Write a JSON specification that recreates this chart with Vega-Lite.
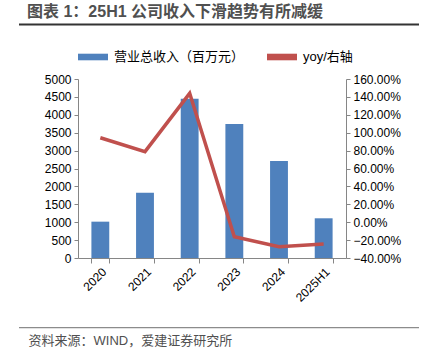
{
  "$schema": "https://vega.github.io/schema/vega-lite/v6.json",
  "background": "white",
  "padding": {"left": 18, "top": 4, "right": 7, "bottom": 5},
  "width": 268,
  "height": 179,
  "config": {
    "font": "Liberation Sans, Noto Sans CJK SC",
    "view": {"stroke": null},
    "axis": {"labelFont": "Liberation Sans, Noto Sans CJK SC", "labelFontSize": 12, "labelColor": "#000000", "domainColor": "#868686", "tickColor": "#868686", "grid": false, "titleFontSize": 12}
  },
  "title": {"text": "图表 1：25H1 公司收入下滑趋势有所减缓", "anchor": "start", "frame": "bounds", "fontSize": 16, "fontWeight": "bold", "color": "#505050", "offset": 3, "dx": 9},
  "layer": [
    {
      "data": {"values": [
        {"year": "2020", "revenue": 1015, "yoy": 0.944},
        {"year": "2021", "revenue": 1824, "yoy": 0.788},
        {"year": "2022", "revenue": 4450, "yoy": 1.44},
        {"year": "2023", "revenue": 3743, "yoy": -0.162},
        {"year": "2024", "revenue": 2709, "yoy": -0.274},
        {"year": "2025H1", "revenue": 1109, "yoy": -0.244}
      ]},
      "layer": [
        {
          "mark": {"type": "bar", "color": "#4F81BD"},
          "encoding": {
            "x": {"field": "year", "type": "nominal", "sort": null, "title": null,
                  "scale": {"paddingInner": 0.6, "paddingOuter": 0.3},
                  "axis": {"labelAngle": -45, "tickBand": "extent", "tickSize": 5, "labelPadding": 3}},
            "y": {"field": "revenue", "type": "quantitative", "title": null,
                  "scale": {"domain": [0, 5000], "nice": false},
                  "axis": {"format": "d", "values": [0, 500, 1000, 1500, 2000, 2500, 3000, 3500, 4000, 4500, 5000], "tickSize": 4, "minExtent": 59, "labelPadding": 3}},
            "color": {"datum": "营业总收入（百万元）", "type": "nominal",
                      "scale": {"domain": ["营业总收入（百万元）", "yoy/右轴"], "range": ["#4F81BD", "#C0504D"]},
                      "legend": {"orient": "top", "title": null, "direction": "horizontal", "symbolType": "M-1,-0.22H1V0.22H-1Z", "symbolSize": 900, "symbolStrokeWidth": 0, "labelFontSize": 13, "labelColor": "#000000", "columnPadding": 22, "labelOffset": 6, "offset": 15}}
          }
        },
        {
          "mark": {"type": "line", "color": "#C0504D", "strokeWidth": 3.5},
          "encoding": {
            "x": {"field": "year", "type": "nominal", "sort": null},
            "y": {"field": "yoy", "type": "quantitative", "title": null,
                  "scale": {"domain": [-0.4, 1.6], "nice": false},
                  "axis": {"orient": "right", "format": ".2%", "values": [-0.4, -0.2, 0, 0.2, 0.4, 0.6, 0.8, 1.0, 1.2, 1.4, 1.6], "tickSize": 4, "labelPadding": 3}},
            "color": {"datum": "yoy/右轴", "type": "nominal"}
          }
        }
      ],
      "resolve": {"scale": {"y": "independent"}}
    },
    {
      "layer": [
        {
          "data": {"values": [{"x0": 0, "x1": 1, "y": 1.3045}]},
          "mark": {"type": "rule", "color": "#333333", "strokeWidth": 2, "clip": false},
          "encoding": {
            "x": {"field": "x0", "type": "quantitative", "scale": {"domain": [0.1475, 0.8175], "zero": false, "nice": false},
                  "axis": {"orient": "bottom", "offset": 70, "domain": false, "ticks": false, "labels": false,
                           "title": "资料来源：WIND，爱建证券研究所", "titleAnchor": "start", "titleAlign": "left", "titleX": -50, "titlePadding": 6,
                           "titleFontSize": 13, "titleFontWeight": "normal", "titleColor": "#505050", "titleBaseline": "top"}},
            "x2": {"field": "x1"},
            "y": {"field": "y", "type": "quantitative", "scale": {"domain": [0, 1], "zero": false, "nice": false}, "axis": null}
          }
        },
        {
          "data": {"values": [{"x0": 0, "x1": 1, "y": -0.389}]},
          "mark": {"type": "rule", "color": "#8c8c8c", "strokeWidth": 1.2, "clip": false},
          "encoding": {
            "x": {"field": "x0", "type": "quantitative"},
            "x2": {"field": "x1"},
            "y": {"field": "y", "type": "quantitative"}
          }
        }
      ]
    }
  ],
  "resolve": {"scale": {"x": "independent", "y": "independent"}}
}
